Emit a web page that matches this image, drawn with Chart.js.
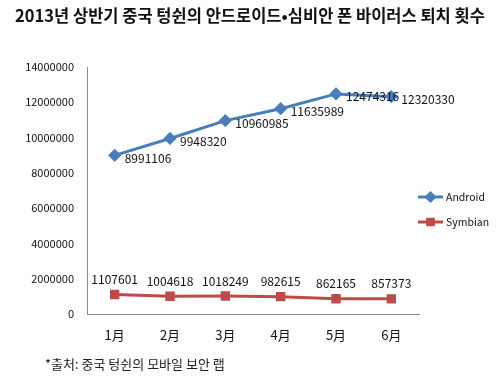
<!DOCTYPE html>
<html>
<head>
<meta charset="utf-8">
<script src="https://cdn.jsdelivr.net/npm/chart.js@4/dist/chart.umd.min.js"></script>
<style>
  html, body { margin: 0; padding: 0; background: #fff; }
  #wrap { width: 500px; height: 376px; position: relative; }
</style>
</head>
<body>
<div id="wrap"><canvas id="virusChart"></canvas></div>
<script>
const months = ["1月", "2月", "3月", "4月", "5月", "6月"];
const androidValues = [8991106, 9948320, 10960985, 11635989, 12474316, 12320330];
const symbianValues = [1107601, 1004618, 1018249, 982615, 862165, 857373];
const yTicks = [0, 2000000, 4000000, 6000000, 8000000, 10000000, 12000000, 14000000];

const titleText = "2013년 상반기 중국 텅쉰의 안드로이드•심비안 폰 바이러스 퇴치 횟수";
const sourceText = "*출처: 중국 텅쉰의 모바일 보안 랩";

const androidColor = "#4A7EBB";
const symbianColor = "#BE4B48";
const fontFamily = "'Noto Sans CJK KR', 'Noto Sans', sans-serif";

// title, footnote, point labels and legend drawn by hand
const extrasPlugin = {
    id: "extras",
    afterDraw(chart) {
        const ctx = chart.ctx;
        ctx.save();
        ctx.fillStyle = "#111";
        ctx.font = "bold 16.5px " + fontFamily;
        ctx.textAlign = "center";
        ctx.textBaseline = "middle";
        ctx.fillText(titleText, 250, 16);

        ctx.font = "13px " + fontFamily;
        ctx.textAlign = "left";
        ctx.fillStyle = "#222";
        ctx.fillText(sourceText, 45, 364);

        // value labels
        ctx.font = "12px " + fontFamily;
        ctx.fillStyle = "#111";
        chart.getDatasetMeta(0).data.forEach((pt, i) => {
            ctx.textAlign = "left";
            ctx.fillText(androidValues[i], pt.x + 10, pt.y + 3);
        });
        chart.getDatasetMeta(1).data.forEach((pt, i) => {
            ctx.textAlign = "center";
            ctx.fillText(symbianValues[i], pt.x, pt.y - 15);
        });

        // legend
        const entries = [
            { label: "Android", color: androidColor, style: "rectRot", y: 197 },
            { label: "Symbian", color: symbianColor, style: "rect", y: 222 }
        ];
        entries.forEach(e => {
            ctx.strokeStyle = e.color;
            ctx.lineWidth = 3;
            ctx.beginPath();
            ctx.moveTo(418, e.y);
            ctx.lineTo(443, e.y);
            ctx.stroke();
            ctx.fillStyle = e.color;
            Chart.helpers.drawPoint(ctx, { pointStyle: e.style, radius: 4, borderWidth: 1 }, 430.5, e.y);
            ctx.fill();
            ctx.fillStyle = "#111";
            ctx.textAlign = "left";
            ctx.font = "10.5px " + fontFamily;
            ctx.fillText(e.label, 446, e.y);
        });
        ctx.restore();
    }
};

new Chart(document.getElementById("virusChart"), {
    type: "line",
    data: {
        labels: months,
        datasets: [
            {
                label: "Android",
                data: androidValues,
                borderColor: androidColor,
                backgroundColor: androidColor,
                borderWidth: 3,
                pointStyle: "rectRot",
                pointRadius: 4.5,
                pointHoverRadius: 4.5,
                tension: 0
            },
            {
                label: "Symbian",
                data: symbianValues,
                borderColor: symbianColor,
                backgroundColor: symbianColor,
                borderWidth: 3,
                pointStyle: "rect",
                pointRadius: 4.5,
                pointHoverRadius: 4.5,
                tension: 0
            }
        ]
    },
    options: {
        responsive: true,
        maintainAspectRatio: false,
        animation: false,
        layout: { padding: { top: 67, right: 81, left: 0, bottom: 0 } },
        plugins: {
            legend: { display: false },
            tooltip: { enabled: false }
        },
        scales: {
            x: {
                offset: true,
                grid: { display: false, drawTicks: false, offset: true },
                border: { display: true, color: "#8a8a8a", width: 1 },
                ticks: { color: "#111", font: { size: 13, family: fontFamily }, padding: 13 },
                afterFit(scale) { scale.height = 62; }
            },
            y: {
                min: 0,
                max: 14000000,
                grid: { display: false, drawTicks: false },
                border: { display: true, color: "#8a8a8a", width: 1 },
                afterBuildTicks(scale) { scale.ticks = yTicks.map(v => ({ value: v })); },
                ticks: {
                    color: "#111",
                    font: { size: 11, family: fontFamily },
                    padding: 13,
                    callback: v => String(v)
                },
                afterFit(scale) { scale.width = 87; }
            }
        }
    },
    plugins: [extrasPlugin]
});
</script>
</body>
</html>
